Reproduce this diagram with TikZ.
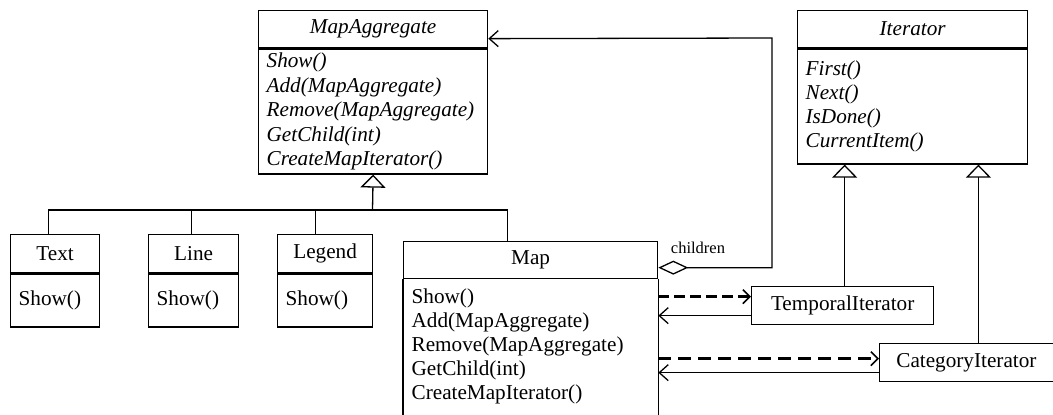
\documentclass[tikz,border=0pt]{standalone}
\usepackage{fontspec}
\setmainfont{Liberation Serif}
\usetikzlibrary{arrows.meta,calc}
\begin{document}
\begin{tikzpicture}[x=1pt,y=-1pt,
  umlfont/.style={font=\fontsize{21.2}{24}\selectfont},
  head/.style={draw, line width=1.3pt, inner sep=0pt, anchor=north west, umlfont},
  body/.style={draw, line width=1.3pt, inner xsep=8pt, inner ysep=0pt, anchor=north west, align=left, umlfont},
  abody/.style={body, font=\fontsize{21.2}{24.5}\selectfont\itshape},
  link/.style={line width=1.3pt},
  gen/.style={link, -{Triangle[open, length=13pt, width=25pt, line width=1.3pt]}},
  assoc/.style={link, -{Straight Barb[length=9pt, width=16pt, line width=1.3pt]}},
  dep/.style={line width=2.4pt, dash pattern=on 11pt off 5pt, -{Straight Barb[length=7pt, width=14pt, line width=1.6pt]}},
  depwide/.style={line width=3pt, dash pattern=on 13pt off 7pt, -{Straight Barb[length=7pt, width=14pt, line width=1.6pt]}},
  agg/.style={link, {Diamond[open, length=30pt, width=14pt, line width=1.3pt]}-{Straight Barb[length=9pt, width=16pt, line width=1.3pt]}},
]
\useasboundingbox (0,0) rectangle (1053,415);
\clip (0,0) rectangle (1053,415);

% abstract aggregate
\node[head, minimum width=229pt, minimum height=37pt] (mah) at (258,10) {\itshape MapAggregate};
\node[abody, text width=213pt, minimum height=125pt] (mab) at (mah.south west)
  {Show()\\Add(MapAggregate)\\Remove(MapAggregate)\\GetChild(int)\\CreateMapIterator()};

% abstract iterator
\node[head, minimum width=230pt, minimum height=37pt] (ih) at (797,10) {\itshape Iterator};
\node[abody, font=\fontsize{21.2}{24}\selectfont\itshape, text width=214pt, minimum height=115pt] (ib) at (ih.south west)
  {First()\\Next()\\IsDone()\\CurrentItem()};

% leaf classes
\node[head, minimum width=89pt, minimum height=38pt] (th) at (10,234) {Text};
\node[body, text width=73pt, minimum height=53pt] (tb) at (th.south west) {Show()};
\node[head, minimum width=90pt, minimum height=38pt] (lh) at (148,234) {Line};
\node[body, text width=74pt, minimum height=53pt] (lb) at (lh.south west) {Show()};
\node[head, minimum width=95pt, minimum height=38pt] (gh) at (277,234) {Legend};
\node[body, text width=79pt, minimum height=53pt] (gb) at (gh.south west) {Show()};

% composite
\node[head, minimum width=254pt, minimum height=37pt] (maph) at (403,241) {Map};
\node[body, draw=none, text width=238pt, inner ysep=9pt] (mapb) at (maph.south west)
  {Show()\\Add(MapAggregate)\\Remove(MapAggregate)\\GetChild(int)\\CreateMapIterator()};
\draw[link] (maph.south west) -- ++(0,150);
\draw[link] (maph.south east) -- ++(0,150);

% concrete iterators
\node[head, minimum width=182pt, minimum height=38pt] (ti) at (751,286) {TemporalIterator};
\node[head, minimum width=173.5pt, minimum height=38pt] (ci) at (879,343) {CategoryIterator};

% inheritance from the aggregate
\coordinate (bus) at (372.5,210);
\draw[link] ($(th.north)+(-6.5pt,0)$) |- (bus) -| ($(maph.north)+(-23pt,0)$);
\draw[link] ($(lh.north)+(-2pt,0)$) -- ($(lh.north |- bus)+(-2pt,0)$);
\draw[link] ($(gh.north)+(-9.5pt,0)$) -- ($(gh.north |- bus)+(-9.5pt,0)$);
\draw[gen] (bus) -- (mab.south);

% children aggregation
\coordinate (aggx) at (772,38);
\draw[agg] ($(maph.east)+(0,-7.5pt)$) -| (aggx) -- ($(mah.east)+(0,-9.5pt)$);
\node[font=\fontsize{16.5}{18}\selectfont, inner sep=0pt] (lbl) at (698,248) {children};

% inheritance from the iterator
\draw[gen] ($(ti.north)+(2pt,0)$) -- ($(ti.north |- ib.south)+(2pt,0)$);
\draw[gen] ($(ci.north)+(12pt,0)$) -- ($(ci.north |- ib.south)+(12pt,0)$);

% creation and traversal links
\draw[dep] ($(ti.west -| maph.east)+(0,9pt)$) -- ($(ti.west)+(0,9pt)$);
\draw[assoc] ($(ti.west)+(0,-10pt)$) -- ($(ti.west -| maph.east)+(0,-10pt)$);
\draw[depwide] ($(ci.west -| maph.east)+(0,4pt)$) -- ($(ci.west)+(0,4pt)$);
\draw[assoc] ($(ci.west)+(0,-10pt)$) -- ($(ci.west -| maph.east)+(0,-10pt)$);
\end{tikzpicture}
\end{document}
